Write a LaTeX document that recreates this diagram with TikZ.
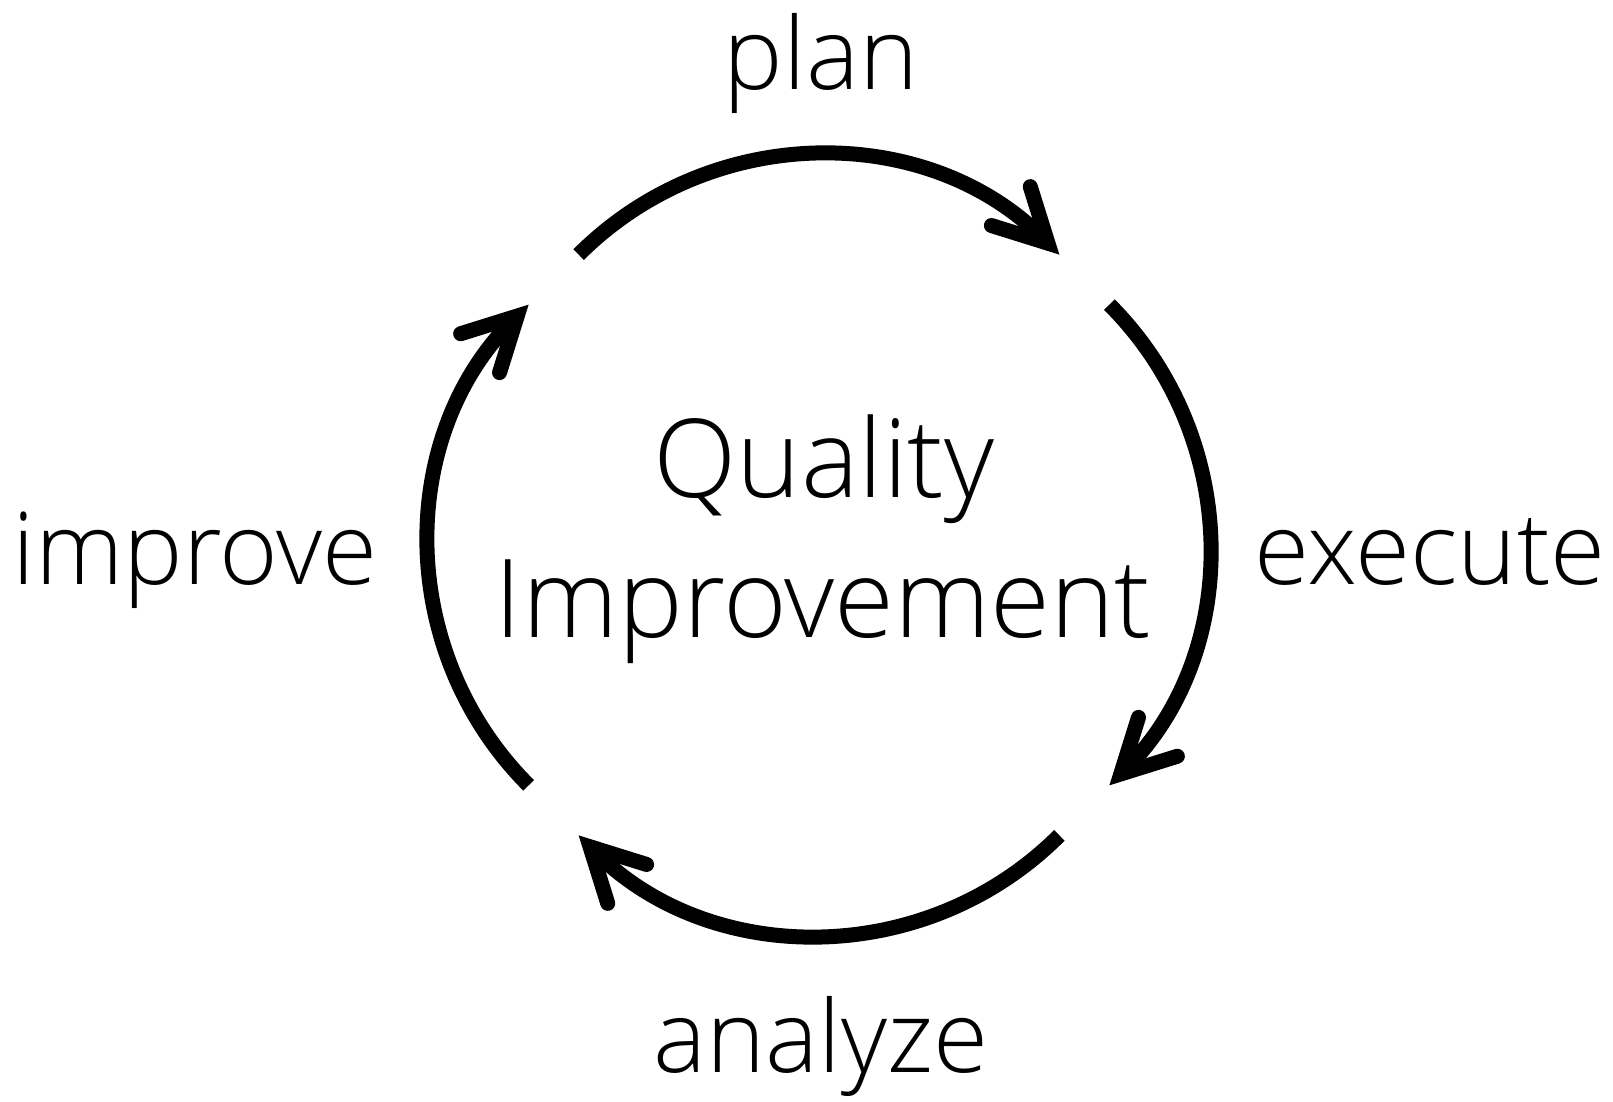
\documentclass[tikz,border=0pt]{standalone}
\usepackage{fontspec}
\setmainfont{Open Sans}[UprightFont=* Light]
\usetikzlibrary{arrows.meta}
\tikzstyle{cyclearrow} = [draw, line width=0.3cm, line cap=butt, -{Straight Barb[length=1.05cm, width=1.1cm, line cap=round, line join=miter]}]
\tikzstyle{phase} = [font=\fontsize{57}{68}\selectfont, anchor=base, inner sep=0pt]
\tikzstyle{title} = [font=\fontsize{62}{74}\selectfont, anchor=base, inner sep=0pt]

\begin{document}
\begin{tikzpicture}[x=0.02cm, y=0.02cm]
\useasboundingbox (0,0) rectangle (1613,1102);

% centres of the four arcs
\coordinate (pc) at (819,607);
\coordinate (ec) at (869,557);
\coordinate (ac) at (819,507);
\coordinate (ic) at (769,557);

\foreach \c/\a in {pc/135, ec/45, ac/-45, ic/225}
  \draw[cyclearrow] ([shift={(\a:6.8cm)}]\c) arc[start angle=\a, delta angle=-90, radius=6.8cm];

\node[phase] (plan) at (821,1012) {plan};
\node[phase] (execute) at (1430,517) {execute};
\node[phase] (analyze) at (821,29) {analyze};
\node[phase] (improve) at (195,517) {improve};

\node[title] (quality) at (824,604) {Quality};
\node[title] (improvement) at (823,464) {Improvement};
\end{tikzpicture}
\end{document}
